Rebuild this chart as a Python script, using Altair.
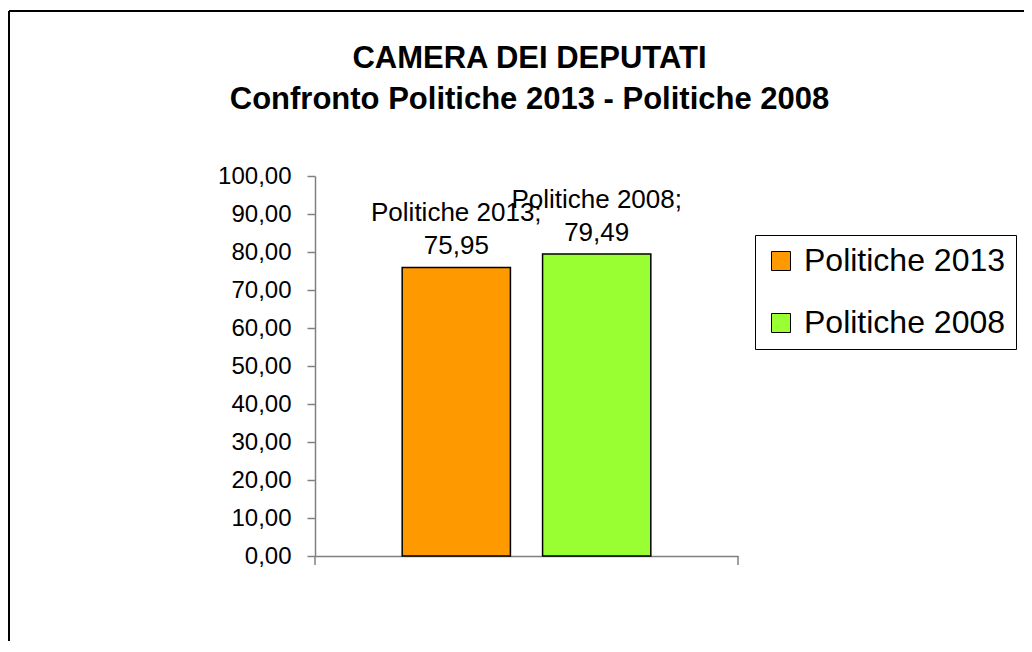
import altair as alt
import pandas as pd

series = ["Politiche 2013", "Politiche 2008"]
values = [75.95, 79.49]
colors = ["#FF9900", "#99FF33"]
y_ticks = [0, 10, 20, 30, 40, 50, 60, 70, 80, 90, 100]
title_lines = ["CAMERA DEI DEPUTATI", "Confronto Politiche 2013 - Politiche 2008"]

labels = [f"{s};\n{v:.2f}".replace(".", ",") for s, v in zip(series, values)]
df = pd.DataFrame({"series": series, "value": values, "label": labels})

W, H = 423, 380
FONT = "Liberation Sans"

x_enc = alt.X("series:N", sort=series,
              scale=alt.Scale(paddingInner=0.229, paddingOuter=0.621),
              axis=alt.Axis(labels=False, ticks=False, title=None, grid=False,
                            domainColor="#808080", domainWidth=1.5))
y_enc = alt.Y("value:Q", scale=alt.Scale(domain=[0, 100], nice=False),
              axis=alt.Axis(values=y_ticks, title=None, grid=False, labelOverlap=False,
                            labelExpr="replace(format(datum.value, '.2f'), '.', ',')",
                            labelFont=FONT, labelFontSize=24, labelColor="black",
                            labelPadding=16, tickSize=8, tickColor="#808080",
                            domainColor="#808080", domainWidth=1.5, tickWidth=1.5))

base = alt.Chart(df)

bars = base.mark_bar(stroke="black", strokeWidth=1.5).encode(
    x=x_enc,
    y=y_enc,
    color=alt.Color("series:N", sort=series,
                    scale=alt.Scale(domain=series, range=colors),
                    legend=alt.Legend(title=None, orient="none", legendX=440, legendY=59,
                                      symbolType="square", symbolSize=361,
                                      symbolStrokeColor="black", symbolStrokeWidth=1,
                                      labelFont=FONT, labelFontSize=32, labelColor="black",
                                      labelOffset=7, rowPadding=30, padding=10,
                                      strokeColor="black", fillColor="white",
                                      labelLimit=400)),
)

text = base.mark_text(font=FONT, fontSize=26, color="black", baseline="bottom",
                      align="center", lineBreak="\n", lineHeight=33, dy=-41).encode(
    x=x_enc,
    y=y_enc,
    text="label:N",
)

dummy = alt.Chart(pd.DataFrame({"a": [0]}))
xticks = dummy.mark_rule(color="#808080", strokeWidth=1.5).encode(
    x=alt.value(0), y=alt.value(H), y2=alt.value(H + 9))
xticks2 = dummy.mark_rule(color="#808080", strokeWidth=1.5).encode(
    x=alt.value(W), y=alt.value(H), y2=alt.value(H + 9))
border_top = dummy.mark_rule(color="black", strokeWidth=2).encode(
    x=alt.value(-306), x2=alt.value(720), y=alt.value(-165))
border_left = dummy.mark_rule(color="black", strokeWidth=2).encode(
    x=alt.value(-306), y=alt.value(-165), y2=alt.value(480))

chart = alt.layer(border_top, border_left, bars, text, xticks, xticks2).properties(
    width=W, height=H,
    background="white",
    title=alt.TitleParams(title_lines, font=FONT, fontSize=31, fontWeight="bold",
                          color="black", anchor="middle", lineHeight=41, offset=0,
                          baseline="top", dy=106, dx=3),
    autosize=alt.AutoSizeParams(type="none"),
    padding={"left": 307, "top": 168, "right": 286, "bottom": 85},
).configure_view(strokeWidth=0, stroke="transparent")

chart.save("out.html", embed_options={"renderer": "svg", "actions": False})
